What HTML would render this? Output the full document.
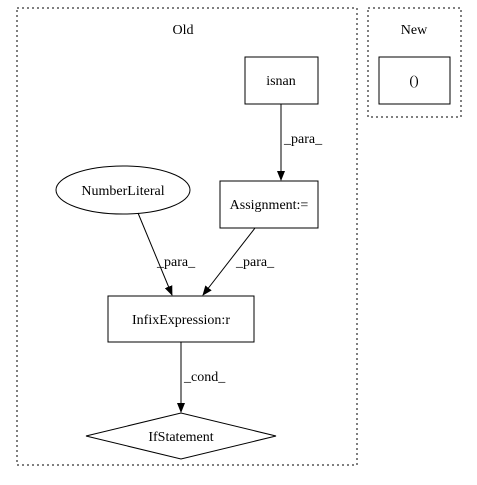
<!DOCTYPE html>
<html><head><style>body{margin:0;background:#fff}</style></head><body>
<svg width="477" height="480" xmlns="http://www.w3.org/2000/svg" font-family="Liberation Serif, serif" font-size="14">
<defs><marker id="a" markerWidth="10" markerHeight="8" refX="9" refY="4" orient="auto" markerUnits="userSpaceOnUse"><path d="M0,0L10,4L0,8z" fill="#000"/></marker></defs>
<rect x="17" y="8" width="340" height="457" fill="none" stroke="#000" stroke-dasharray="2,3"/>
<text x="183" y="34" text-anchor="middle">Old</text>
<rect x="368" y="8" width="93" height="109" fill="none" stroke="#000" stroke-dasharray="2,3"/>
<text x="414" y="34" text-anchor="middle">New</text>
<rect x="379" y="57" width="71" height="47" fill="none" stroke="#000"/>
<text x="414" y="85" text-anchor="middle">()</text>
<rect x="245" y="57" width="73" height="47" fill="none" stroke="#000"/>
<text x="281" y="85" text-anchor="middle">isnan</text>
<rect x="220" y="181" width="98" height="47" fill="none" stroke="#000"/>
<text x="269" y="209" text-anchor="middle">Assignment:=</text>
<ellipse cx="123" cy="190" rx="67" ry="24" fill="none" stroke="#000"/>
<text x="123" y="195" text-anchor="middle">NumberLiteral</text>
<rect x="108" y="296" width="146" height="46" fill="none" stroke="#000"/>
<text x="181" y="324" text-anchor="middle">InfixExpression:r</text>
<polygon points="86,436 181,413 276,436 181,459" fill="none" stroke="#000"/>
<text x="181" y="441" text-anchor="middle">IfStatement</text>
<line x1="281" y1="104" x2="281" y2="180" stroke="#000" marker-end="url(#a)"/>
<text x="284" y="143">_para_</text>
<line x1="255" y1="228" x2="203" y2="295" stroke="#000" marker-end="url(#a)"/>
<text x="236" y="266">_para_</text>
<line x1="138" y1="213" x2="172" y2="295" stroke="#000" marker-end="url(#a)"/>
<text x="157" y="266">_para_</text>
<line x1="181" y1="342" x2="181" y2="412" stroke="#000" marker-end="url(#a)"/>
<text x="184" y="381">_cond_</text>
</svg>
</body></html>
